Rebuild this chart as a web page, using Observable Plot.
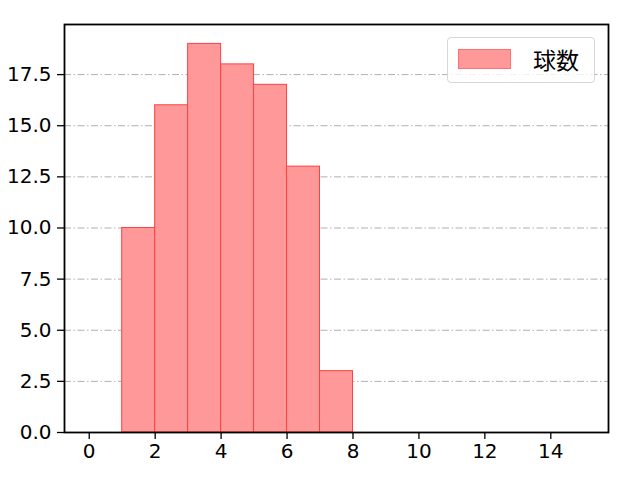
<!DOCTYPE html>
<html>
<head>
<meta charset="utf-8">
<script src="https://cdn.jsdelivr.net/npm/d3@7"></script>
<script src="https://cdn.jsdelivr.net/npm/@observablehq/plot@0.6"></script>
<style>
  html, body { margin: 0; padding: 0; background: #fff; }
  #wrap { position: relative; width: 640px; height: 480px; font-family: "Noto Sans CJK JP", sans-serif; }
  #legend { position: absolute; left: 447px; top: 37px; width: 148px; height: 46px; border: 1px solid #d6d6d6; border-radius: 4px; background: rgba(255,255,255,0.8); box-sizing: border-box; }
  #legend .sw { position: absolute; left: 10px; top: 11px; width: 53px; height: 20px; background: #ff9999; border: 1px solid #ff7070; box-sizing: border-box; }
  #legend .lb { position: absolute; left: 85px; top: 4px; font-size: 23px; line-height: 34px; color: #000; }
</style>
</head>
<body>
<div id="wrap"><div id="legend"><div class="sw"></div><div class="lb">球数</div></div></div>
<script>
const binStart = [1, 2, 3, 4, 5, 6, 7];
const binEnd = [2, 3, 4, 5, 6, 7, 8];
const counts = [10, 16, 19, 18, 17, 13, 3];
const xTicks = [0, 2, 4, 6, 8, 10, 12, 14];
const yTicks = [0, 2.5, 5, 7.5, 10, 12.5, 15, 17.5];
const seriesName = "球数";

const data = binStart.map((s, i) => ({x1: s, x2: binEnd[i], y: counts[i]}));

const chart = Plot.plot({
  width: 640,
  height: 480,
  marginLeft: 64,
  marginRight: 32,
  marginTop: 24,
  marginBottom: 48,
  style: {fontFamily: "DejaVu Sans", fontSize: "20px", color: "#000", background: "#fff"},
  x: {domain: [-0.75, 15.75], label: null},
  y: {domain: [0, 19.95], label: null},
  marks: [
    Plot.ruleY(yTicks, {stroke: "#b0b0b0", strokeWidth: 1, strokeDasharray: "7,2.5,1.5,2.5"}),
    Plot.rectY(data, {x1: "x1", x2: "x2", y: "y", fill: "#ff9999", stroke: "#ff4040", strokeWidth: 1}),
    Plot.axisX({ticks: xTicks, tickFormat: d => String(d), tickSize: 7, tickPadding: 4, label: null, stroke: "#000", strokeWidth: 1.3, fontSize: 20}),
    Plot.axisY({ticks: yTicks, tickFormat: d => d.toFixed(1), tickSize: 7, tickPadding: 6, label: null, stroke: "#000", strokeWidth: 1.3, fontSize: 20}),
    Plot.frame({stroke: "#000", strokeWidth: 1.8})
  ]
});
document.getElementById("wrap").prepend(chart);
chart.style.position = "absolute";
chart.style.left = "0";
chart.style.top = "0";
</script>
</body>
</html>
